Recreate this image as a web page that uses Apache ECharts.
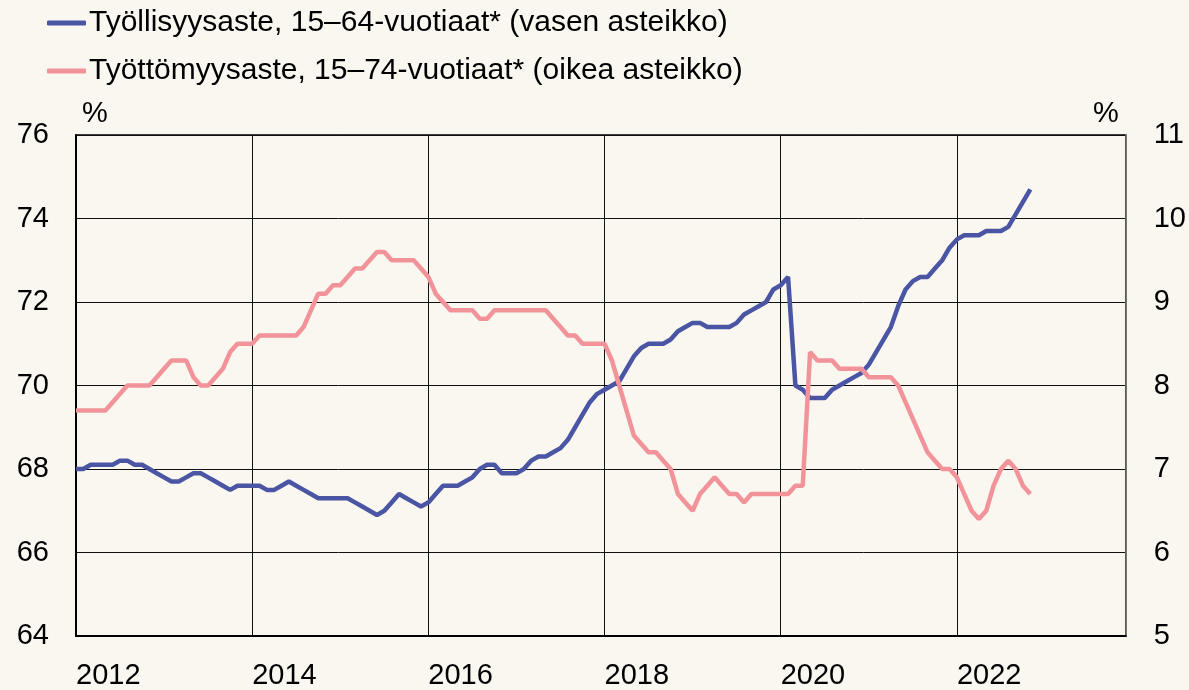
<!DOCTYPE html>
<html>
<head>
<meta charset="utf-8">
<script src="https://cdn.jsdelivr.net/npm/echarts@6/dist/echarts.min.js"></script>
<style>
html,body{margin:0;padding:0;background:#FAF6F0;}
#chart{width:1189px;height:690px;}
</style>
</head>
<body>
<div id="chart"></div>
<script>
const seriesNames = [
  'Työllisyysaste, 15–64-vuotiaat* (vasen asteikko)',
  'Työttömyysaste, 15–74-vuotiaat* (oikea asteikko)'
];
const years = [2012,2013,2014,2015,2016,2017,2018,2019,2020,2021,2022,2023];
const monthNums = ['01','02','03','04','05','06','07','08','09','10','11','12'];
const categories = [];
years.forEach(y => monthNums.forEach(m => categories.push(y + '-' + m)));

// Monthly, Jan 2012 – Nov 2022
const employment = [
  68.0,68.0,68.1,68.1,68.1,68.1,68.2,68.2,68.1,68.1,
  68.0,67.9,67.8,67.7,67.7,67.8,67.9,67.9,67.8,67.7,
  67.6,67.5,67.6,67.6,67.6,67.6,67.5,67.5,67.6,67.7,
  67.6,67.5,67.4,67.3,67.3,67.3,67.3,67.3,67.2,67.1,
  67.0,66.9,67.0,67.2,67.4,67.3,67.2,67.1,67.2,67.4,
  67.6,67.6,67.6,67.7,67.8,68.0,68.1,68.1,67.9,67.9,
  67.9,68.0,68.2,68.3,68.3,68.4,68.5,68.7,69.0,69.3,
  69.6,69.8,69.9,70.0,70.1,70.4,70.7,70.9,71.0,71.0,
  71.0,71.1,71.3,71.4,71.5,71.5,71.4,71.4,71.4,71.4,
  71.5,71.7,71.8,71.9,72.0,72.3,72.4,72.6,70.0,69.9,
  69.7,69.7,69.7,69.9,70.0,70.1,70.2,70.3,70.5,70.8,
  71.1,71.4,71.9,72.3,72.5,72.6,72.6,72.8,73.0,73.3,
  73.5,73.6,73.6,73.6,73.7,73.7,73.7,73.8,74.1,74.4,
  74.7
];
const unemployment = [
  7.7,7.7,7.7,7.7,7.7,7.8,7.9,8.0,8.0,8.0,
  8.0,8.1,8.2,8.3,8.3,8.3,8.1,8.0,8.0,8.1,
  8.2,8.4,8.5,8.5,8.5,8.6,8.6,8.6,8.6,8.6,
  8.6,8.7,8.9,9.1,9.1,9.2,9.2,9.3,9.4,9.4,
  9.5,9.6,9.6,9.5,9.5,9.5,9.5,9.4,9.3,9.1,
  9.0,8.9,8.9,8.9,8.9,8.8,8.8,8.9,8.9,8.9,
  8.9,8.9,8.9,8.9,8.9,8.8,8.7,8.6,8.6,8.5,
  8.5,8.5,8.5,8.3,8.0,7.7,7.4,7.3,7.2,7.2,
  7.1,7.0,6.7,6.6,6.5,6.7,6.8,6.9,6.8,6.7,
  6.7,6.6,6.7,6.7,6.7,6.7,6.7,6.7,6.8,6.8,
  8.4,8.3,8.3,8.3,8.2,8.2,8.2,8.2,8.1,8.1,
  8.1,8.1,8.0,7.8,7.6,7.4,7.2,7.1,7.0,7.0,
  6.9,6.7,6.5,6.4,6.5,6.8,7.0,7.1,7.0,6.8,
  6.7
];
const leftTicks = {min: 64, max: 76, interval: 2};
const rightTicks = {min: 5, max: 11, interval: 1};

const FONT = '"Liberation Sans", Arial, sans-serif';
const chart = echarts.init(document.getElementById('chart'), null, {renderer: 'canvas'});
const yearTick = (idx) => idx % 24 === 0;

chart.setOption({
  backgroundColor: '#FAF6F0',
  animation: false,
  textStyle: {fontFamily: FONT},
  legend: {
    orient: 'vertical',
    left: 42,
    top: 3,
    padding: 5,
    itemGap: 18,
    itemWidth: 39,
    itemHeight: 5,
    icon: 'roundRect',
    textStyle: {fontSize: 30, color: '#000', fontFamily: FONT, lineHeight: 30, padding: [0, 0, 0, -2]},
    data: seriesNames
  },
  grid: {
    left: 76, right: 61, top: 135, bottom: 49,
    show: true, borderColor: '#000', borderWidth: 1.5
  },
  xAxis: {
    type: 'category',
    boundaryGap: false,
    data: categories,
    axisLine: {lineStyle: {color: '#000', width: 2}},
    axisTick: {show: false},
    axisLabel: {
      interval: yearTick,
      formatter: v => v.slice(0, 4),
      align: 'left',
      fontSize: 29, color: '#000', fontFamily: FONT, margin: 25
    },
    splitLine: {show: true, interval: yearTick, lineStyle: {color: '#111', width: 1}}
  },
  yAxis: [
    {
      type: 'value', position: 'left',
      min: leftTicks.min, max: leftTicks.max, interval: leftTicks.interval,
      name: '%', nameLocation: 'end', nameGap: 7,
      nameTextStyle: {fontSize: 29, color: '#000', fontFamily: FONT, align: 'left', verticalAlign: 'bottom', padding: [0, 0, 0, 6]},
      axisLine: {show: true, lineStyle: {color: '#000', width: 2}},
      axisTick: {show: false},
      axisLabel: {fontSize: 29, color: '#000', fontFamily: FONT, margin: 27, padding: [6, 0, 0, 0]},
      splitLine: {show: true, lineStyle: {color: '#111', width: 1}}
    },
    {
      type: 'value', position: 'right',
      min: rightTicks.min, max: rightTicks.max, interval: rightTicks.interval,
      name: '%', nameLocation: 'end', nameGap: 7,
      nameTextStyle: {fontSize: 29, color: '#000', fontFamily: FONT, align: 'right', verticalAlign: 'bottom', padding: [0, 7, 0, 0]},
      axisLine: {show: true, lineStyle: {color: '#777', width: 1.5}},
      axisTick: {show: false},
      axisLabel: {fontSize: 29, color: '#000', fontFamily: FONT, margin: 28, padding: [6, 0, 0, 0]},
      splitLine: {show: false}
    }
  ],
  series: [
    {
      name: seriesNames[0], type: 'line', yAxisIndex: 0,
      data: employment, symbol: 'none',
      lineStyle: {color: '#4A55A4', width: 4.5},
      itemStyle: {color: '#4A55A4'}
    },
    {
      name: seriesNames[1], type: 'line', yAxisIndex: 1,
      data: unemployment, symbol: 'none',
      lineStyle: {color: '#F2939A', width: 4.5},
      itemStyle: {color: '#F2939A'}
    }
  ]
});
</script>
</body>
</html>
